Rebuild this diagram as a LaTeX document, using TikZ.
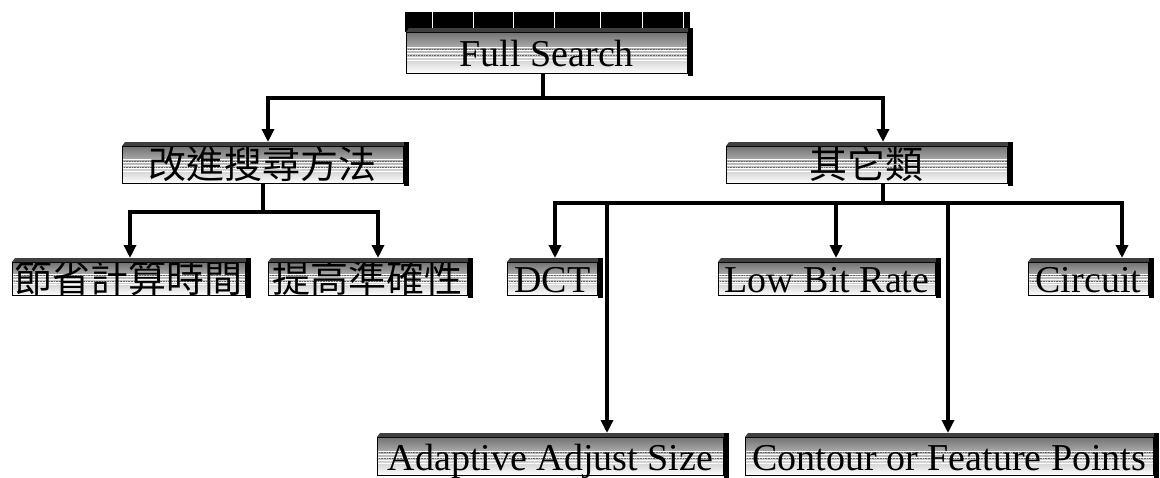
\documentclass[tikz,border=0pt]{standalone}
\usepackage{fontspec}
\setmainfont{Liberation Serif}
\newfontfamily\cjk{Noto Sans CJK TC}
\usetikzlibrary{arrows.meta,calc}
\tikzset{
  bev/.style={draw=black, line width=0.8pt, inner sep=0pt, anchor=north west,
    text height=28pt, text depth=0pt, font=\fontsize{38}{40}\selectfont,
    top color=black!55, bottom color=white, middle color=black!25,
    path picture={
      \foreach \f in {0.36,0.44,0.52,0.60,0.68}{
        \draw[white, line width=0.9pt]
          ($(path picture bounding box.north west)!\f!(path picture bounding box.south west)$) --
          ($(path picture bounding box.north east)!\f!(path picture bounding box.south east)$);
      }
      \foreach \f in {0.40,0.56}{
        \draw[black!60, line width=0.6pt, densely dotted]
          ($(path picture bounding box.north west)!\f!(path picture bounding box.south west)$) --
          ($(path picture bounding box.north east)!\f!(path picture bounding box.south east)$);
      }
    }},
  link/.style={line width=3.5pt, line join=miter},
  arr/.style={link, -{Triangle[width=12pt,length=13pt]}, shorten >=4pt}
}
\newcommand\bevdeco[1]{%
  \fill[black!75] (#1.north west) -- ($(#1.north west)+(3pt,4pt)$) -- ($(#1.north east)+(0pt,4pt)$) -- (#1.north east) -- cycle;
  \fill[black] ($(#1.north east)+(0pt,4pt)$) rectangle ($(#1.south east)+(5pt,-2pt)$);
}
\begin{document}
\begin{tikzpicture}[x=1pt,y=-1pt]
\useasboundingbox[fill=white] (0,0) rectangle (1160,477);
% black band above top box
\fill[black] (405,12) rectangle (690,32);
\foreach \x in {432,473,513,554,600,642,683}
  \draw[white, line width=1pt] (\x,12) -- (\x,29);
% boxes
\node[bev, minimum width=281pt, minimum height=41pt] (FS) at (406,32) {Full Search};
\node[bev, minimum width=281pt, minimum height=37pt] (A) at (122,146) {\cjk 改進搜尋方法};
\node[bev, minimum width=281pt, minimum height=37pt] (B) at (726,146) {\cjk 其它類};
\node[bev, minimum width=233pt, minimum height=33pt] (C1) at (12,262) {\cjk 節省計算時間};
\node[bev, minimum width=199pt, minimum height=33pt] (C2) at (268,262) {\cjk 提高準確性};
\node[bev, minimum width=90pt, minimum height=33pt] (D) at (507,262) {DCT};
\node[bev, minimum width=217pt, minimum height=33pt] (L) at (718,262) {Low Bit Rate};
\node[bev, minimum width=120pt, minimum height=33pt] (Ci) at (1028,262) {Circuit};
\node[bev, minimum width=346pt, minimum height=38pt] (Ad) at (377,437) {Adaptive Adjust Size};
\node[bev, minimum width=408pt, minimum height=38pt] (Co) at (745,437) {Contour or Feature Points};
\foreach \n in {FS,A,B,C1,C2,D,L,Ci,Ad,Co} {\bevdeco{\n}}
% branch coordinates
\coordinate (j0) at (543,98);
\coordinate (xa) at (268,0);
\coordinate (xb) at (883,0);
\coordinate (y1) at (0,212);
\coordinate (x1) at (130,0);
\coordinate (x2) at (378,0);
\coordinate (j2) at (883,203);
\coordinate (xd) at (555,0);
\coordinate (xad) at (607,0);
\coordinate (xl) at (836,0);
\coordinate (xco) at (948,0);
\coordinate (xci) at (1122,0);
% level 1
\draw[link] (FS.south -| j0) -- (j0);
\draw[arr] (j0) -| (A.north -| xa);
\draw[arr] (j0) -| (B.north -| xb);
% level 2 left
\draw[link] (A.south) -- (A.south |- y1);
\draw[arr] (A.south |- y1) -| (C1.north -| x1);
\draw[arr] (A.south |- y1) -| (C2.north -| x2);
% level 2 right
\draw[link] (B.south -| j2) -- (j2);
\draw[arr] (j2) -| (D.north -| xd);
\draw[arr] (j2) -| (Ci.north -| xci);
\draw[arr] (j2 -| xl) -- (L.north -| xl);
\draw[arr] (j2 -| xad) -- (Ad.north -| xad);
\draw[arr] (j2 -| xco) -- (Co.north -| xco);
\end{tikzpicture}
\end{document}
